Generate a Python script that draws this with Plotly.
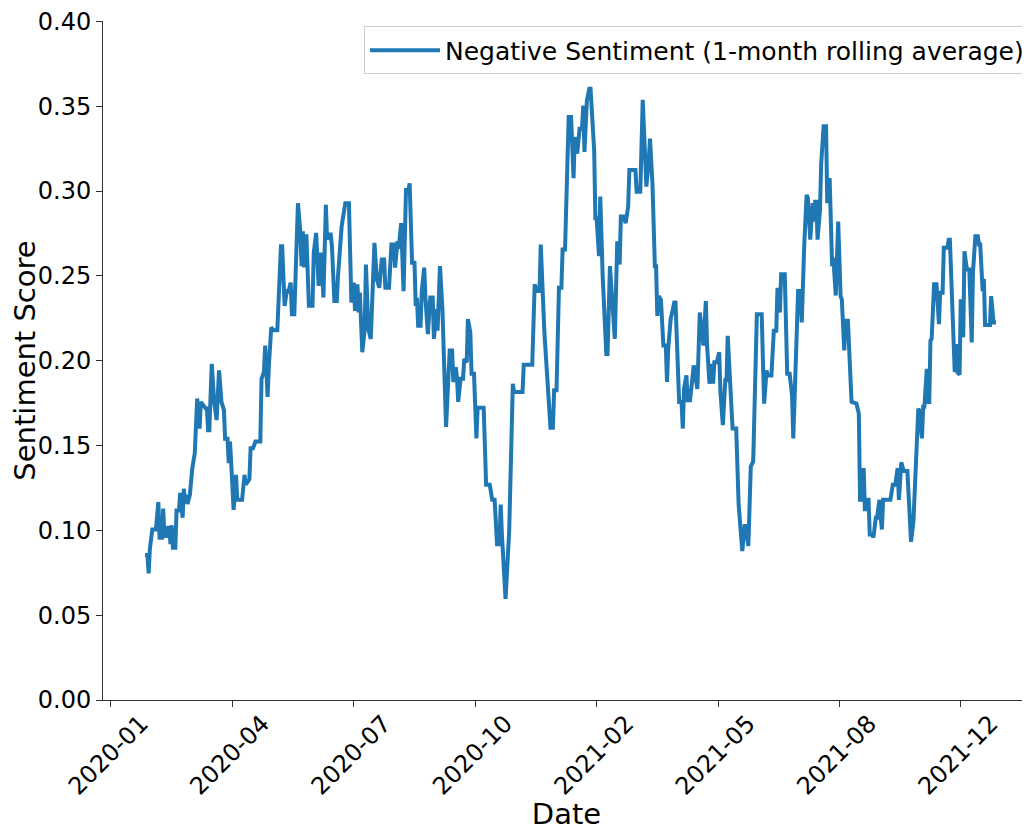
import pandas as pd
import plotly.graph_objects as go

# days since 2020-01-01, one row per stretch of the curve
days = [
    28, 30, 31, 32, 34, 37, 39, 40, 42, 43, 44, 46, 47, 48, 49, 50, 51, 53, 54, 56,
    57, 59, 60, 61, 62, 63, 65, 67, 69, 71, 73, 74, 78, 79, 80, 81, 83, 85, 87, 89,
    91, 93, 94, 96, 97, 98, 99, 101, 103, 104, 108, 110, 111, 114, 115, 117, 119,
    123, 124, 126, 127, 129, 130, 132, 134, 137, 140, 141, 143, 145, 146, 148, 149, 151,
    154, 156, 157, 158, 159, 160, 161, 163, 166, 167, 169, 171, 172, 173, 175, 177,
    178, 179, 181, 182, 184, 186, 187, 189, 190, 193, 196, 198, 200, 201, 203, 204,
    205, 207, 209, 210, 212, 214, 217,
    219, 221, 223, 225, 226, 229, 231, 233, 234, 236, 237, 239, 241, 243, 245, 246,
    248, 250, 251, 252, 253, 255, 256, 258, 259, 261, 263, 265, 266, 268, 269, 271,
    273, 276, 279, 281, 282, 284,
    285, 286, 288, 290, 291, 293, 294, 296, 297, 299, 301, 302, 307, 309, 312, 314,
    316, 318, 320, 321, 322, 325, 328, 331, 332, 339, 340, 347, 349, 351, 353, 354,
    357, 360, 362, 364, 365, 367,
    369, 371, 372, 374, 377, 379, 380, 381, 382, 384, 386, 388, 389, 390, 392, 394,
    395, 398, 399, 400, 402, 403, 405, 408, 409, 411, 413, 415,
    417, 419, 420, 422, 424, 426, 427, 432, 433, 436, 438, 441, 443, 444, 446, 448,
    449, 450, 451, 453, 455, 457, 458, 459, 461, 464, 465, 468, 470, 471, 472, 474,
    475, 477, 480, 481, 483,
    485, 488, 490, 491, 493, 495, 496, 497, 499, 501, 502, 504, 506, 507, 508, 510,
    512, 515, 517, 520, 522, 523, 525, 527, 529, 532, 536, 537, 538, 540, 541, 544,
    546, 548,
    549, 551, 552, 555, 557, 559, 561, 562, 564, 566, 568, 569, 571, 573, 574, 576,
    578, 579, 580, 581, 582, 584, 585, 587, 589, 590, 591, 592, 594, 595, 597, 599,
    601, 602, 604, 605, 607, 610, 614, 616,
    617, 618, 620, 621, 622, 624, 625, 627, 628, 630, 631, 633, 634, 635, 636, 642,
    644, 646, 648, 649, 651, 653, 656, 659, 661, 665, 666, 668, 669, 670, 672, 673,
    674, 675, 676,
    678, 680, 682, 683, 685, 686, 689, 690, 691, 695, 696, 697, 699, 700, 702, 703,
    705, 707, 709, 710, 712, 714, 715, 716, 718, 719, 720, 724, 725, 727, 729,
]

negative = [
    .0855, .0855, .0746, .0888, .1005, .1005, .1167, .0957, .0957, .1128, .0966, .0966,
    .1015, .1015, .0919, .103, .0898, .0898, .1117, .1117, .122, .1074, .1245, .1162,
    .121, .1156, .121, .1367, .1454, .1777, .160, .1757, .1718, .1718, .159, .159,
    .1981, .1757, .165, .1943,
    .1757, .171, .154, .154, .1396, .1523, .14, .112, .1327, .118, .118, .1327, .127,
    .13, .1484, .1484, .1523, .1523, .1894, .1933, .2089, .1786, .1962, .2196, .2179,
    .2179, .2675, .2675, .2323, .242, .240, .246, .2274, .2274,
    .2928, .2753, .2557, .2763, .255, .2734, .2734, .2323, .2323, .2635, .2753, .244,
    .2626, .2626, .2372, .2918, .2713, .2743, .2743, .2675, .2352, .2352, .2499, .2694,
    .2792, .2928, .2928, .2343, .246, .2294, .245, .2284, .2401, .205, .2186, .2567,
    .2186, .2128, .2694,
    .248, .243, .2596, .2596, .243, .243, .2684, .2684, .2548, .2704, .266, .2811,
    .241, .3006, .3006, .3045, .2577, .2577, .2323, .237, .2206, .2206, .241, .2548,
    .237, .2157, .2372, .2372, .2128, .2304, .2177, .2557, .2304, .161, .206, .206,
    .1874, .1962,
    .19, .1757, .1894, .1894, .201, .199, .2245, .2167, .1923, .1923, .1542, .1722,
    .1722, .1269, .1269, .118, .118, .0918, .0918, .1152, .0976, .0596, .0996, .1864,
    .1815, .1815, .1976, .1976, .245, .241, .241, .2684, .2167, .1874, .1605, .1605,
    .1825, .1825,
    .243, .243, .2655, .2655, .3436, .3436, .328, .3075, .3318, .322, .3367, .3367,
    .3504, .323, .3534, .3602, .3602, .324, .284, .284, .2616, .2967, .2499, .204,
    .204, .2557, .2343, .2128,
    .2704, .2567, .285, .285, .2811, .2909, .3124, .3124, .2996, .2996, .3537, .3026,
    .3182, .3309, .3045, .2557, .2557, .2264, .238, .236, .2089, .2089, .1874, .2069,
    .2245, .2343, .2343, .1757, .1757, .16, .1834, .1913, .1767, .1767, .1972, .192,
    .1834,
    .2284, .2089, .2352, .2089, .1864, .1981, .1864, .1991, .1991, .205, .1815, .162,
    .1884, .1884, .2147, .1913, .16, .16, .1152, .0878, .1025, .1025, .0908, .1376,
    .1406, .2274, .2274, .2001, .1747, .1942, .1913, .1913, .2177, .2177,
    .243, .2284, .2509, .2509, .1923, .1923, .1796, .1542, .205, .241, .241, .2225,
    .2675, .2977, .296, .2713, .2928, .282, .2937, .2937, .2713, .2889, .3162, .3381,
    .3381, .2928, .3065, .3065, .2557, .2606, .2384, .282, .238, .236, .206, .2235,
    .2235, .1757, .1747, .1689,
    .118, .118, .1367, .1113, .118, .118, .0976, .0976, .0957, .1074, .1074, .118,
    .108, .1005, .118, .118, .1269, .1269, .1367, .118, .1401, .135, .135, .0932,
    .1054, .1718, .170, .1542, .1728, .1728, .1952, .1757, .1757, .2118, .2128,
    .245, .245, .2215, .2401, .2401, .2665, .2665, .2713, .2713, .1933, .2098, .1933,
    .1917, .2362, .2138, .2645, .2538, .2538, .2108, .2518, .2733, .2733, .2684, .2684,
    .241, .2483, .221, .221, .238, .2225, .2225,
]

assert len(days) == len(negative)
dates = pd.Timestamp("2020-01-01") + pd.to_timedelta(days, unit="D")

fnt = "DejaVu Sans, Verdana, sans-serif"

fig = go.Figure()
fig.add_trace(go.Scatter(
    x=dates, y=negative, mode="lines",
    name="Negative Sentiment (1-month rolling average)",
    line=dict(color="#1f77b4", width=4),
))

# the page body adds 8px on top/left, so the figure is 8px smaller
fig.update_layout(
    width=1022, height=823,
    margin=dict(l=95, r=0, t=9, b=131),
    paper_bgcolor="white", plot_bgcolor="white",
    font=dict(family=fnt, size=24, color="black"),
    showlegend=True,
    legend=dict(
        x=1.0, y=0.992, xanchor="right", yanchor="top",
        bgcolor="rgba(255,255,255,0.8)", bordercolor="#cccccc", borderwidth=1,
        font=dict(size=25), itemwidth=70,
    ),
)

fig.update_xaxes(
    range=["2019-12-25 10:00", "2022-01-27"],
    tick0="2020-01-01", dtick=100 * 86400000, tickformat="%Y-%m",
    tickangle=-45, ticklabelshift=30, ticklabelstandoff=-7,
    ticks="outside", ticklen=6, tickwidth=1, tickcolor="#333",
    showline=True, linecolor="#333", linewidth=1,
    showgrid=False, zeroline=False,
    title=dict(text="Date", standoff=4),
)
fig.update_yaxes(
    range=[0, 0.4002], tick0=0, dtick=0.05, tickformat=".2f",
    ticklabeloverflow="allow",
    ticks="outside", ticklen=6, tickwidth=1, tickcolor="#333",
    showline=True, linecolor="#333", linewidth=1,
    showgrid=False, zeroline=False,
    title=dict(text="Sentiment Score", standoff=2),
)

fig.write_html("out.html")
